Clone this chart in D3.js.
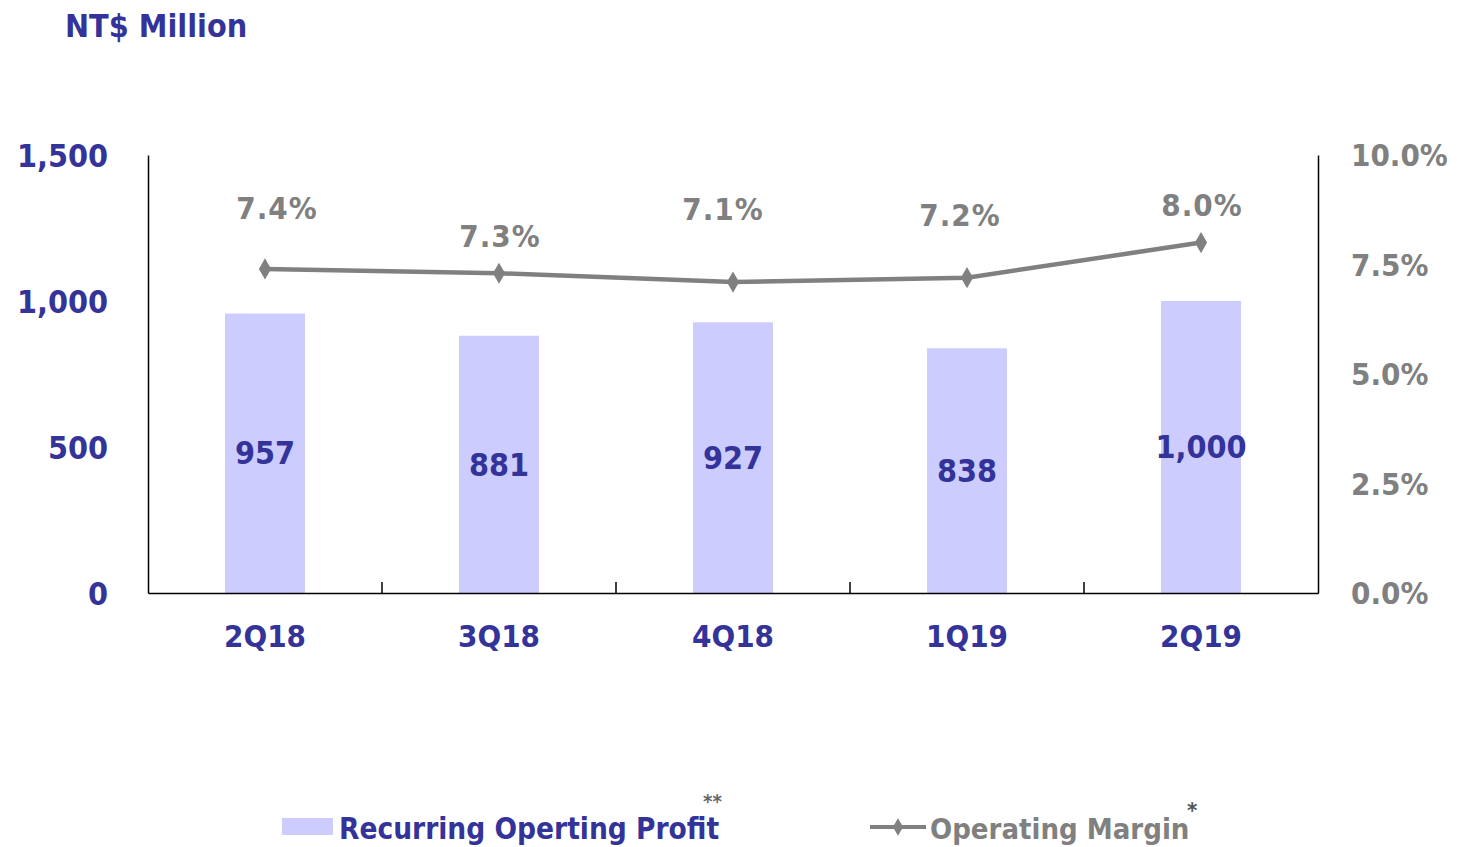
<!DOCTYPE html>
<html>
<head>
<meta charset="utf-8">
<script src="https://cdn.jsdelivr.net/npm/d3@7"></script>
<style>
  body { margin: 0; background: #fff; }
  text { font-family: "DejaVu Sans Condensed", "DejaVu Sans", sans-serif; font-weight: bold; }
</style>
</head>
<body>
<svg id="chart" width="1457" height="847"></svg>
<script>
// data
var quarters = ["2Q18", "3Q18", "4Q18", "1Q19", "2Q19"];
var profit = [957, 881, 927, 838, 1000];
var margin = [7.4, 7.3, 7.1, 7.2, 8.0];
var leftTicks = [0, 500, 1000, 1500];
var rightTicks = [0, 2.5, 5.0, 7.5, 10.0];

// label nudges (layout only)
var marginLabelDx = [12, 1, -10, -7, 1];
var marginLabelDy = [-50, -26, -62, -52, -27];

var navy = "#333399", grey = "#808080", barFill = "#ccccff";

var svg = d3.select("#chart");
var plotLeft = 148, plotRight = 1318, plotTop = 155, plotBottom = 593;

var x = d3.scaleBand().domain(quarters).range([plotLeft, plotRight]).paddingInner(0).paddingOuter(0);
var yL = d3.scaleLinear().domain([0, 1500]).range([plotBottom, plotTop]);
var yR = d3.scaleLinear().domain([0, 10]).range([plotBottom, plotTop]);

// title
svg.append("text").attr("x", 65).attr("y", 37)
    .attr("fill", navy).style("font-size", "32px").text("NT$ Million");

// left axis
var axL = svg.append("g").attr("transform", "translate(" + plotLeft + ",0)")
    .call(d3.axisLeft(yL).tickValues(leftTicks).tickSize(0).tickPadding(40).tickFormat(d3.format(",")));
axL.select(".domain").attr("stroke", "#000").attr("stroke-width", 1.5);
axL.selectAll("text").attr("fill", navy).style("font-size", "32px").attr("dy", "0.35em");

// right axis
var axR = svg.append("g").attr("transform", "translate(" + plotRight + ",0)")
    .call(d3.axisRight(yR).tickValues(rightTicks).tickSize(0).tickPadding(33).tickFormat(function (d) { return d.toFixed(1) + "%"; }));
axR.select(".domain").attr("stroke", "#000").attr("stroke-width", 1.5);
axR.selectAll("text").attr("fill", grey).style("font-size", "31px").attr("dy", "0.35em");

// bars
var barW = 80;
svg.append("g").selectAll("rect").data(profit).enter().append("rect")
    .attr("x", function (d, i) { return x(quarters[i]) + x.bandwidth() / 2 - barW / 2; })
    .attr("y", function (d) { return yL(d); })
    .attr("width", barW)
    .attr("height", function (d) { return plotBottom - yL(d); })
    .attr("fill", barFill);

// bottom axis
var axB = svg.append("g").attr("transform", "translate(0," + plotBottom + ")")
    .call(d3.axisBottom(x).tickSize(0).tickPadding(32));
axB.select(".domain").attr("stroke", "#000").attr("stroke-width", 1.5);
axB.selectAll("text").attr("fill", navy).style("font-size", "31px");
// inner tick marks at category boundaries
svg.append("g").selectAll("line").data(quarters.slice(1)).enter().append("line")
    .attr("x1", function (d) { return x(d); }).attr("x2", function (d) { return x(d); })
    .attr("y1", plotBottom).attr("y2", plotBottom - 11)
    .attr("stroke", "#000").attr("stroke-width", 1.5);

// bar labels
svg.append("g").selectAll("text").data(profit).enter().append("text")
    .attr("x", function (d, i) { return x(quarters[i]) + x.bandwidth() / 2; })
    .attr("y", function (d) { return (yL(d) + plotBottom) / 2; })
    .attr("dy", "0.35em").attr("text-anchor", "middle")
    .attr("fill", navy).style("font-size", "32px")
    .text(function (d) { return d3.format(",")(d); });

// margin line
var cx = function (d, i) { return x(quarters[i]) + x.bandwidth() / 2; };
var line = d3.line().x(cx).y(function (d) { return yR(d); });
svg.append("path").datum(margin).attr("d", line)
    .attr("fill", "none").attr("stroke", grey).attr("stroke-width", 4.5);
svg.append("g").selectAll("path").data(margin).enter().append("path")
    .attr("d", d3.symbol().type(d3.symbolDiamond).size(130))
    .attr("transform", function (d, i) { return "translate(" + cx(d, i) + "," + yR(d) + ")"; })
    .attr("fill", grey);

svg.append("g").selectAll("text").data(margin).enter().append("text")
    .attr("x", function (d, i) { return cx(d, i) + marginLabelDx[i]; })
    .attr("y", function (d, i) { return yR(d) + marginLabelDy[i]; })
    .attr("text-anchor", "middle").attr("fill", grey).style("font-size", "31px")
    .style("letter-spacing", "1px")
    .text(function (d) { return d.toFixed(1) + "%"; });

// legend
var lg = svg.append("g");
lg.append("rect").attr("x", 282).attr("y", 818).attr("width", 51).attr("height", 17).attr("fill", barFill);
lg.append("text").attr("x", 339).attr("y", 839).attr("fill", navy).style("font-size", "29.5px").text("Recurring Operting Profit");
lg.append("text").attr("x", 703).attr("y", 808).attr("fill", "#666").style("font-size", "20px").text("**");
lg.append("line").attr("x1", 870).attr("x2", 926).attr("y1", 827).attr("y2", 827).attr("stroke", grey).attr("stroke-width", 4);
lg.append("path").attr("d", d3.symbol().type(d3.symbolDiamond).size(90)).attr("transform", "translate(898,827)").attr("fill", grey);
lg.append("text").attr("x", 930).attr("y", 839).attr("fill", grey).style("font-size", "29px").text("Operating Margin");
lg.append("text").attr("x", 1187).attr("y", 818).attr("fill", "#555").style("font-size", "22px").text("*");
</script>
</body>
</html>
